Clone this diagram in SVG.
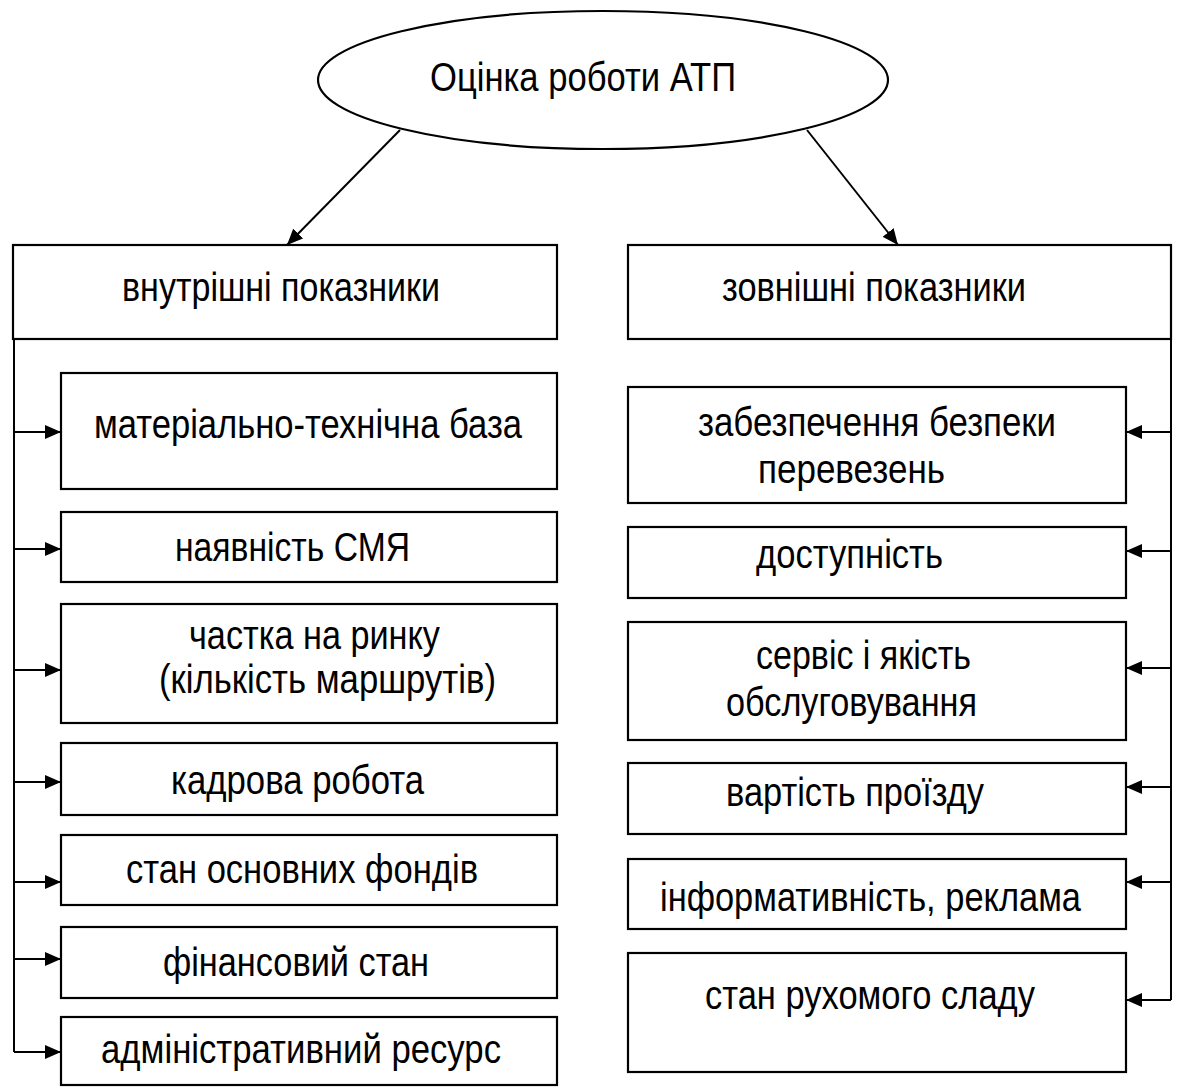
<svg xmlns="http://www.w3.org/2000/svg" width="1182" height="1088" viewBox="0 0 1182 1088">
<defs>
<marker id="ah" markerUnits="userSpaceOnUse" markerWidth="17" markerHeight="14" refX="16" refY="7" orient="auto">
<path d="M0,0 L16,7 L0,14 z" fill="#000"/>
</marker>
<style>
.box{fill:#fff;stroke:#000;stroke-width:2.2}
.t{font-family:"Liberation Sans",Arial,sans-serif;font-size:41px;fill:#000}
.c{stroke:#000;stroke-width:2;fill:none}
.ca{stroke:#000;stroke-width:2;fill:none;marker-end:url(#ah)}
</style>
</defs>
<rect width="1182" height="1088" fill="#fff"/>

<g id="root">
<ellipse class="box" cx="603" cy="80" rx="285" ry="69"/>
<text class="t" x="430" y="91" textLength="306" lengthAdjust="spacingAndGlyphs">Оцінка роботи АТП</text>
</g>

<g id="internal">
<rect class="box" x="13" y="245" width="544" height="94"/>
<text class="t" x="122" y="301" textLength="318" lengthAdjust="spacingAndGlyphs">внутрішні показники</text>
</g>
<g id="external">
<rect class="box" x="628" y="245" width="543" height="94"/>
<text class="t" x="722" y="301" textLength="304" lengthAdjust="spacingAndGlyphs">зовнішні показники</text>
</g>

<g id="i1"><rect class="box" x="61" y="373" width="496" height="116"/>
<text class="t" x="94" y="438" textLength="428" lengthAdjust="spacingAndGlyphs">матеріально-технічна база</text></g>
<g id="i2"><rect class="box" x="61" y="512" width="496" height="70"/>
<text class="t" x="175" y="561" textLength="235" lengthAdjust="spacingAndGlyphs">наявність СМЯ</text></g>
<g id="i3"><rect class="box" x="61" y="604" width="496" height="119"/>
<text class="t" x="189" y="649" textLength="251" lengthAdjust="spacingAndGlyphs">частка на ринку</text>
<text class="t" x="159" y="693" textLength="337" lengthAdjust="spacingAndGlyphs">(кількість маршрутів)</text></g>
<g id="i4"><rect class="box" x="61" y="743" width="496" height="72"/>
<text class="t" x="171" y="794" textLength="253" lengthAdjust="spacingAndGlyphs">кадрова робота</text></g>
<g id="i5"><rect class="box" x="61" y="835" width="496" height="70"/>
<text class="t" x="126" y="883" textLength="352" lengthAdjust="spacingAndGlyphs">стан основних фондів</text></g>
<g id="i6"><rect class="box" x="61" y="927" width="496" height="71"/>
<text class="t" x="163" y="976" textLength="266" lengthAdjust="spacingAndGlyphs">фінансовий стан</text></g>
<g id="i7"><rect class="box" x="61" y="1017" width="496" height="68"/>
<text class="t" x="101" y="1063" textLength="400" lengthAdjust="spacingAndGlyphs">адміністративний ресурс</text></g>

<g id="e1"><rect class="box" x="628" y="387" width="498" height="116"/>
<text class="t" x="698" y="436" textLength="358" lengthAdjust="spacingAndGlyphs">забезпечення безпеки</text>
<text class="t" x="758" y="483" textLength="187" lengthAdjust="spacingAndGlyphs">перевезень</text></g>
<g id="e2"><rect class="box" x="628" y="527" width="498" height="71"/>
<text class="t" x="756" y="568" textLength="187" lengthAdjust="spacingAndGlyphs">доступність</text></g>
<g id="e3"><rect class="box" x="628" y="622" width="498" height="118"/>
<text class="t" x="756" y="669" textLength="215" lengthAdjust="spacingAndGlyphs">сервіс і якість</text>
<text class="t" x="726" y="716" textLength="251" lengthAdjust="spacingAndGlyphs">обслуговування</text></g>
<g id="e4"><rect class="box" x="628" y="763" width="498" height="71"/>
<text class="t" x="726" y="806" textLength="258" lengthAdjust="spacingAndGlyphs">вартість проїзду</text></g>
<g id="e5"><rect class="box" x="628" y="859" width="498" height="70"/>
<text class="t" x="660" y="911" textLength="421" lengthAdjust="spacingAndGlyphs">інформативність, реклама</text></g>
<g id="e6"><rect class="box" x="628" y="953" width="498" height="119"/>
<text class="t" x="705" y="1009" textLength="330" lengthAdjust="spacingAndGlyphs">стан рухомого сладу</text></g>

<g id="connectors">
<line class="ca" x1="400" y1="130" x2="287" y2="245"/>
<line class="ca" x1="807" y1="130" x2="898" y2="245"/>
<line class="c" x1="14" y1="339" x2="14" y2="1052"/>
<line class="ca" x1="14" y1="432" x2="61" y2="432"/>
<line class="ca" x1="14" y1="549" x2="61" y2="549"/>
<line class="ca" x1="14" y1="670" x2="61" y2="670"/>
<line class="ca" x1="14" y1="782" x2="61" y2="782"/>
<line class="ca" x1="14" y1="882" x2="61" y2="882"/>
<line class="ca" x1="14" y1="959" x2="61" y2="959"/>
<line class="ca" x1="14" y1="1052" x2="61" y2="1052"/>
<line class="c" x1="1171" y1="339" x2="1171" y2="1000"/>
<line class="ca" x1="1171" y1="432" x2="1126" y2="432"/>
<line class="ca" x1="1171" y1="551" x2="1126" y2="551"/>
<line class="ca" x1="1171" y1="668" x2="1126" y2="668"/>
<line class="ca" x1="1171" y1="787" x2="1126" y2="787"/>
<line class="ca" x1="1171" y1="882" x2="1126" y2="882"/>
<line class="ca" x1="1171" y1="1000" x2="1126" y2="1000"/>
</g>
</svg>
